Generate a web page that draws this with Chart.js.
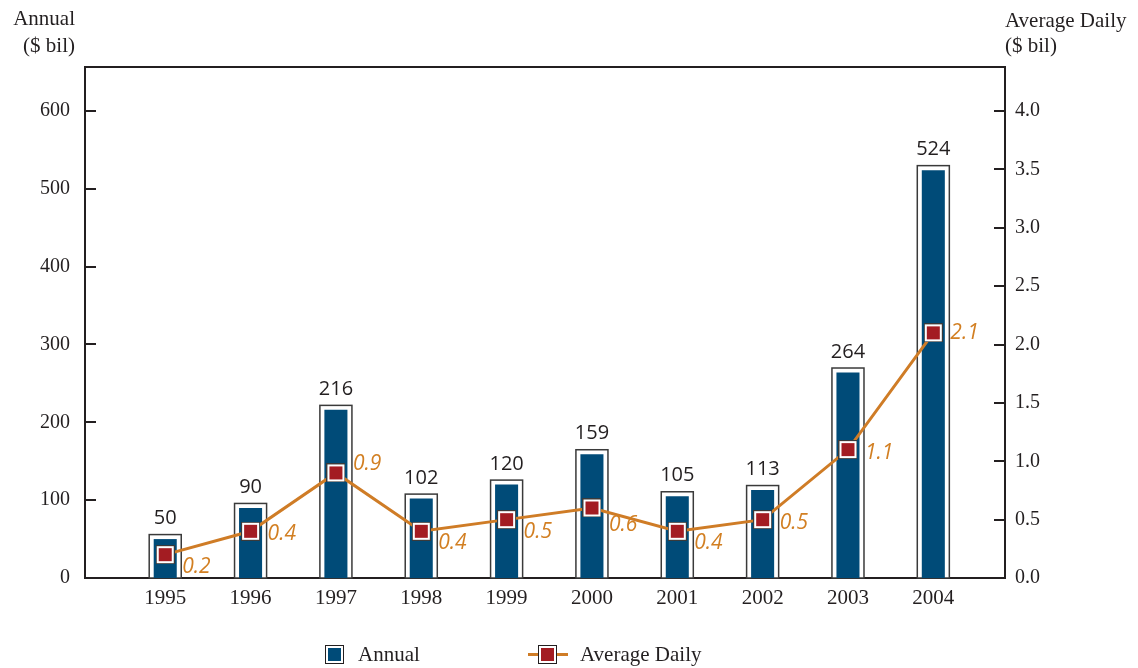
<!DOCTYPE html>
<html>
<head>
<meta charset="utf-8">
<script src="https://cdn.jsdelivr.net/npm/chart.js@4.4.1/dist/chart.umd.min.js"></script>
<style>
  body { margin: 0; background: #fff; }
  #wrap { position: relative; width: 1138px; height: 668px; }
  #chart { position: absolute; left: 0; top: 0; }
  .t { position: absolute; font-family: "Liberation Serif", serif; font-size: 21px; line-height: 26px; color: #231f20; white-space: nowrap; }
  .ico { position: absolute; box-sizing: border-box; }
</style>
</head>
<body>
<div id="wrap">
  <canvas id="chart" width="1138" height="668"></canvas>
  <div class="t" style="right:1063px; top:5px; text-align:right;">Annual</div>
  <div class="t" style="right:1063px; top:32px; text-align:right;">($ bil)</div>
  <div class="t" style="left:1005px; top:7px;">Average Daily</div>
  <div class="t" style="left:1005px; top:32px;">($ bil)</div>

  <div class="ico" style="left:325px; top:645px; width:19px; height:19px; border:1.5px solid #231f20; background:#fff; padding:2px;">
    <div style="width:100%; height:100%; background:#004b78;"></div>
  </div>
  <div class="t" style="left:358px; top:641px;">Annual</div>
  <div class="ico" style="left:528px; top:653px; width:40px; height:3px; background:#cf7c26;"></div>
  <div class="ico" style="left:538px; top:645px; width:19px; height:19px; border:1px solid #231f20; background:#fff; padding:2px;">
    <div style="width:100%; height:100%; background:#a31c22;"></div>
  </div>
  <div class="t" style="left:580px; top:641px;">Average Daily</div>
</div>
<script>
const years = [1995, 1996, 1997, 1998, 1999, 2000, 2001, 2002, 2003, 2004];
const annual = [50, 90, 216, 102, 120, 159, 105, 113, 264, 524];
const daily = [0.2, 0.4, 0.9, 0.4, 0.5, 0.6, 0.4, 0.5, 1.1, 2.1];

const ink = '#231f20';
const blue = '#004b78';
const orange = '#cf7c26';
const red = '#a31c22';

// square marker: dark edge, white ring, red centre
function makeMarker() {
    const c = document.createElement('canvas');
    c.width = 19; c.height = 19;
    const g = c.getContext('2d');
    g.fillStyle = '#3a3a3a'; g.fillRect(0, 0, 19, 19);
    g.fillStyle = '#fff'; g.fillRect(1, 1, 17, 17);
    g.fillStyle = red; g.fillRect(3, 3, 13, 13);
    return c;
}
const marker = makeMarker();

// label of the daily line sits to the right, shifted by the slope of the next segment
function dailyLabelDy(i) {
    if (i === daily.length - 1) return 0;
    const d = daily[i + 1] - daily[i];
    if (d <= -0.3) return -9;
    if (d < 0) return 17;
    if (d >= 0.5) return 3;
    return 12;
}

const decorPlugin = {
    id: 'decor',
    beforeDatasetsDraw(chart) {
        const ctx = chart.ctx;
        const meta = chart.getDatasetMeta(1);
        ctx.save();
        meta.data.forEach(el => {
            const w = el.width + 9;
            const top = el.y - 4.5;
            ctx.fillStyle = '#fff';
            ctx.fillRect(el.x - w / 2, top, w, el.base - top);
            ctx.strokeStyle = '#3a3a3a';
            ctx.lineWidth = 1.5;
            ctx.strokeRect(el.x - w / 2, top, w, el.base - top);
        });
        ctx.restore();
    },
    afterDatasetsDraw(chart) {
        const ctx = chart.ctx;
        const area = chart.chartArea;
        ctx.save();
        // top frame line and inner tick marks
        ctx.strokeStyle = ink;
        ctx.lineWidth = 2;
        ctx.beginPath();
        ctx.moveTo(area.left - 1, area.top);
        ctx.lineTo(area.right + 1, area.top);
        const y = chart.scales.y, y1 = chart.scales.y1;
        y.ticks.forEach(t => {
            const p = Math.round(y.getPixelForValue(t.value));
            if (t.value === 0) return;
            ctx.moveTo(area.left, p); ctx.lineTo(area.left + 11, p);
        });
        y1.ticks.forEach(t => {
            const p = Math.round(y1.getPixelForValue(t.value));
            if (t.value === 0) return;
            ctx.moveTo(area.right - 11, p); ctx.lineTo(area.right, p);
        });
        ctx.stroke();

        // annual values above bars
        ctx.font = '20px "Open Sans", sans-serif';
        ctx.fillStyle = ink;
        ctx.textAlign = 'center';
        ctx.textBaseline = 'alphabetic';
        chart.getDatasetMeta(1).data.forEach((el, i) => {
            ctx.fillText(String(annual[i]), el.x, el.y - 15);
        });

        // daily values beside markers
        ctx.font = 'italic 21px "Open Sans", sans-serif';
        ctx.fillStyle = '#d27f22';
        ctx.textAlign = 'left';
        ctx.textBaseline = 'middle';
        chart.getDatasetMeta(0).data.forEach((el, i) => {
            ctx.fillText(daily[i].toFixed(1), el.x + 17, el.y + dailyLabelDy(i));
        });
        ctx.restore();
    }
};

const serif = { family: '"Liberation Serif", serif', size: 20 };

new Chart(document.getElementById('chart'), {
    type: 'bar',
    data: {
        datasets: [
            {
                type: 'line',
                label: 'Average Daily',
                data: years.map((yr, i) => ({ x: yr, y: daily[i] })),
                yAxisID: 'y1',
                borderColor: orange,
                borderWidth: 3,
                pointStyle: marker,
                pointRadius: 9,
                tension: 0,
                order: 0
            },
            {
                type: 'bar',
                label: 'Annual',
                data: years.map((yr, i) => ({ x: yr, y: annual[i] })),
                yAxisID: 'y',
                backgroundColor: blue,
                borderWidth: 0,
                categoryPercentage: 1,
                barPercentage: 0.27,
                order: 1
            }
        ]
    },
    options: {
        responsive: false,
        animation: false,
        layout: { padding: { top: 67, left: 0, right: 0, bottom: 0 } },
        plugins: { legend: { display: false }, tooltip: { enabled: false } },
        scales: {
            x: {
                type: 'linear',
                offset: false,
                min: 1994.06,
                max: 2004.84,
                grid: { display: false, drawTicks: false },
                border: { display: true, color: ink, width: 2 },
                ticks: {
                    stepSize: 1,
                    includeBounds: false,
                    padding: 8,
                    color: ink,
                    font: { family: serif.family, size: 21 },
                    callback: v => String(v)
                },
                afterFit: s => { s.height = 90; }
            },
            y: {
                position: 'left',
                min: 0,
                max: 656.5,
                grid: { display: false, drawTicks: false },
                border: { display: true, color: ink, width: 2 },
                ticks: { stepSize: 100, includeBounds: false, padding: 15, color: ink, font: serif },
                afterFit: s => { s.width = 85; }
            },
            y1: {
                position: 'right',
                min: 0,
                max: 4.377,
                grid: { display: false, drawTicks: false },
                border: { display: true, color: ink, width: 2 },
                ticks: {
                    stepSize: 0.5,
                    includeBounds: false,
                    padding: 10,
                    color: ink,
                    font: serif,
                    callback: v => v.toFixed(1)
                },
                afterFit: s => { s.width = 133; }
            }
        }
    },
    plugins: [decorPlugin]
});
</script>
</body>
</html>
